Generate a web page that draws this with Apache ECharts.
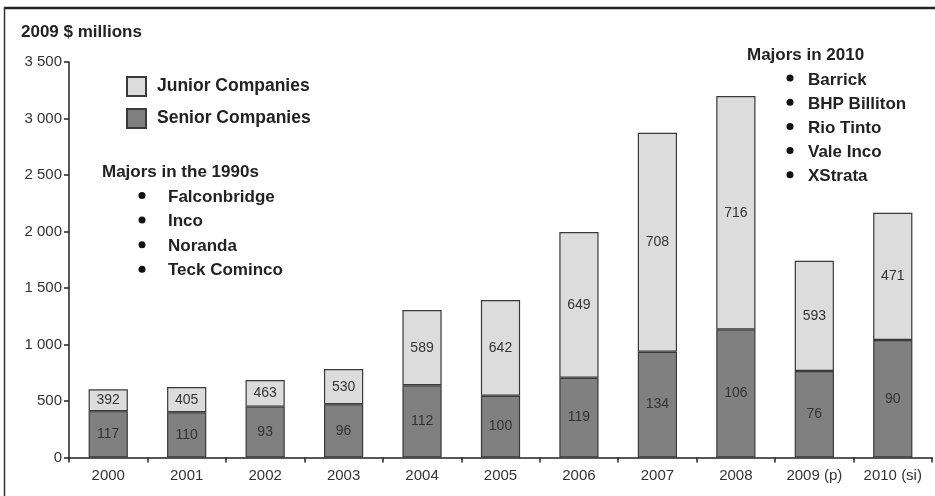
<!DOCTYPE html>
<html>
<head>
<meta charset="utf-8">
<script src="https://cdn.jsdelivr.net/npm/echarts@6/dist/echarts.min.js"></script>
<style>html,body{margin:0;padding:0;background:#fff}#c{width:935px;height:496px}</style>
</head>
<body>
<div id="c"></div>
<script>
var categories = ['2000','2001','2002','2003','2004','2005','2006','2007','2008','2009 (p)','2010 (si)'];
var seniorValues = [410,400,450,471,639,547,706,936,1134,765,1040];
var juniorValues = [193,224,236,312,666,847,1290,1938,2065,976,1126];
var seniorCounts = [117,110,93,96,112,100,119,134,106,76,90];
var juniorCounts = [392,405,463,530,589,642,649,708,716,593,471];
var majors1990 = ['Falconbridge','Inco','Noranda','Teck Cominco'];
var majors2010 = ['Barrick','BHP Billiton','Rio Tinto','Vale Inco','XStrata'];

var FONT = 'Liberation Sans, Arial, sans-serif';
var chart = echarts.init(document.getElementById('c'));

var graphics = [
  {type:'line', shape:{x1:4,y1:8,x2:935,y2:8}, style:{stroke:'#222',lineWidth:2.5}},
  {type:'line', shape:{x1:4.5,y1:7,x2:4.5,y2:496}, style:{stroke:'#333',lineWidth:1.5}},
  {type:'text', x:21, y:32, style:{text:'2009 $ millions', font:'bold 17px '+FONT, fill:'#222', verticalAlign:'middle'}},
  {type:'text', x:102, y:172, style:{text:'Majors in the 1990s', font:'bold 17px '+FONT, fill:'#222', verticalAlign:'middle'}},
  {type:'text', x:747, y:55, style:{text:'Majors in 2010', font:'bold 17px '+FONT, fill:'#222', verticalAlign:'middle'}}
];
majors1990.forEach(function(n,i){
  var y = 197 + i*24.6;
  graphics.push({type:'circle', shape:{cx:142,cy:y-1.5,r:3.5}, style:{fill:'#111'}});
  graphics.push({type:'text', x:168, y:y, style:{text:n, font:'bold 17px '+FONT, fill:'#222', verticalAlign:'middle'}});
});
majors2010.forEach(function(n,i){
  var y = 80 + i*24.2;
  graphics.push({type:'circle', shape:{cx:790,cy:y-2,r:3.5}, style:{fill:'#111'}});
  graphics.push({type:'text', x:808, y:y, style:{text:n, font:'bold 17px '+FONT, fill:'#222', verticalAlign:'middle'}});
});

chart.setOption({
  animation:false,
  backgroundColor:'#fff',
  textStyle:{fontFamily:FONT},
  legend:{
    orient:'vertical', left:121, top:71, itemGap:11, itemWidth:19, itemHeight:19,
    icon:'rect', padding:[5,5,5,5],
    data:['Junior Companies','Senior Companies'],
    textStyle:{fontFamily:FONT, fontWeight:'bold', fontSize:17.5, color:'#222', padding:[0,0,0,6], lineHeight:19}
  },
  grid:{left:69, right:3, top:62, bottom:38.5, containLabel:false},
  xAxis:{
    type:'category', data:categories,
    axisLine:{lineStyle:{color:'#222', width:1.5}},
    axisTick:{show:true, length:5, lineStyle:{color:'#222', width:1.5}},
    axisLabel:{fontFamily:FONT, fontSize:15, color:'#333', margin:11}
  },
  yAxis:{
    type:'value', min:0, max:3500, interval:500,
    splitLine:{show:false},
    axisLine:{show:true, lineStyle:{color:'#222', width:1.5}},
    axisTick:{show:true, length:5, lineStyle:{color:'#222', width:1.5}},
    axisLabel:{fontFamily:FONT, fontSize:15, color:'#333', margin:7,
      formatter:function(v){return String(v).replace(/\B(?=(\d{3})+(?!\d))/g,' ');}}
  },
  series:[
    {name:'Senior Companies', type:'bar', stack:'t', data:seniorValues, barWidth:'50%',
      itemStyle:{color:'#808080', borderColor:'#3a3a3a', borderWidth:1.2},
      label:{show:true, position:'inside', fontFamily:FONT, fontSize:14, color:'#333',
        formatter:function(p){return seniorCounts[p.dataIndex];}}},
    {name:'Junior Companies', type:'bar', stack:'t', data:juniorValues, barWidth:'50%',
      itemStyle:{color:'#dcdcdc', borderColor:'#3a3a3a', borderWidth:1.2},
      label:{show:true, position:'inside', fontFamily:FONT, fontSize:14, color:'#333',
        formatter:function(p){return juniorCounts[p.dataIndex];}}}
  ],
  graphic:graphics
});
</script>
</body>
</html>
